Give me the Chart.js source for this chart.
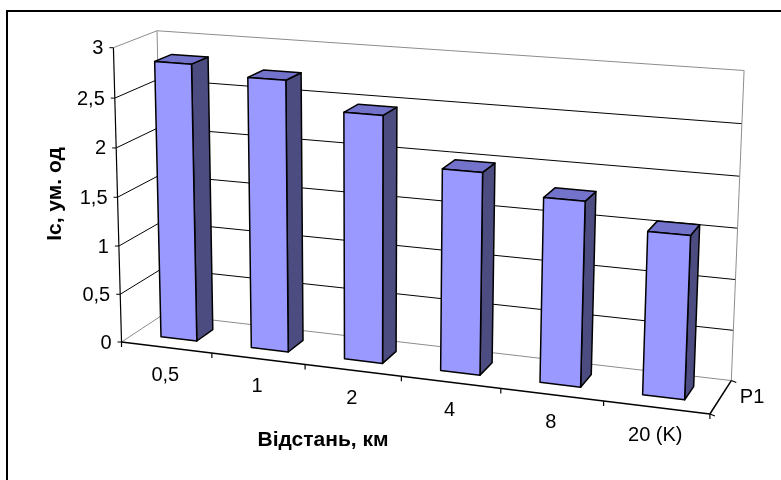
<!DOCTYPE html>
<html><head><meta charset="utf-8">
<script src="https://cdn.jsdelivr.net/npm/chart.js@4.4.1/dist/chart.umd.min.js"></script>
<style>html,body{margin:0;padding:0;background:#fff;}#wrap{width:781px;height:480px;}</style>
</head><body><div id="wrap"><canvas id="c" width="781" height="480"></canvas></div>
<script>
// ---- data ----
const categories = ['0,5', '1', '2', '4', '8', '20 (K)'];
const seriesName = 'P1';
const values = [2.83, 2.74, 2.47, 2.0, 1.81, 1.58];
const yMin = 0, yMax = 3, yStep = 0.5;
const yTitle = 'Іс, ум. од';
const xTitle = 'Відстань, км';

// ---- 3D frame calibration (slot X, normalised value Y, depth Z) -> screen ----
const frameCal = [
  [0,0,0,123,341],[0,1,0,112.5,47],[6,0,0,710,415],
  [0,0,1,162,316],[0,1,1,158,31],[6,0,1,732,378],[6,1,1,744,71],
  [1,0,0,212,352.5],[2,0,0,305,364],[3,0,0,402,376.5],[4,0,0,500,389],[5,0,0,603,402]
];
function solveProjection(pts){
  const rows=[], rhs=[];
  for (const [X,Y,Z,u0,v0] of pts){
    const u=(u0-400)/400, v=(v0-240)/400;
    rows.push([X,Y,Z,1,0,0,0,0,-u*X,-u*Y,-u*Z]); rhs.push(u);
    rows.push([0,0,0,0,X,Y,Z,1,-v*X,-v*Y,-v*Z]); rhs.push(v);
  }
  const n=11, A=[...Array(n)].map(()=>Array(n+1).fill(0));
  rows.forEach((r,k)=>{for(let i=0;i<n;i++){for(let j=0;j<n;j++)A[i][j]+=r[i]*r[j];A[i][n]+=r[i]*rhs[k];}});
  for(let c=0;c<n;c++){
    let p=c; for(let r=c+1;r<n;r++) if(Math.abs(A[r][c])>Math.abs(A[p][c])) p=r;
    const t=A[c];A[c]=A[p];A[p]=t;
    for(let r=0;r<n;r++){ if(r===c) continue; const f=A[r][c]/A[c][c]; for(let k=c;k<=n;k++) A[r][k]-=f*A[c][k]; }
  }
  return A.map((r,i)=>r[n]/r[i]);
}
const M = solveProjection(frameCal);
function P(X,Y,Z){
  const w=M[8]*X+M[9]*Y+M[10]*Z+1;
  return [(M[0]*X+M[1]*Y+M[2]*Z+M[3])/w*400+400, (M[4]*X+M[5]*Y+M[6]*Z+M[7])/w*400+240];
}
const fmt = v => String(v).replace('.', ',');

const threeD = {
  id:'threeD',
  afterDatasetsDraw(chart){
    const ctx=chart.ctx, xs=chart.scales.x, ys=chart.scales.y;
    const N=chart.data.labels.length, slot=xs.width/N;
    const norm = v => (v - ys.min)/(ys.max - ys.min);
    const line=(a,b,col,w)=>{ctx.beginPath();ctx.moveTo(a[0],a[1]);ctx.lineTo(b[0],b[1]);ctx.strokeStyle=col;ctx.lineWidth=w;ctx.stroke();};
    ctx.save();
    ctx.lineCap='butt';
    // frame
    ctx.strokeStyle='#000';ctx.lineWidth=2;ctx.strokeRect(7,11,800,500);
    // walls grid
    const gray='#8c8c8c';
    ys.ticks.forEach(t=>{
      const y=norm(t.value);
      const col=(t.value===ys.max||t.value===ys.min)?gray:'#000';
      line(P(0,y,0),P(0,y,1),col,1);
      line(P(0,y,1),P(N,y,1),col,1);
    });
    line(P(0,0,1),P(0,1,1),gray,1);
    line(P(N,0,1),P(N,1,1),gray,1);
    // axes
    line(P(0,0,0),P(0,1,0),'#000',1.2);
    line(P(0,0,0),P(N,0,0),'#000',1.5);
    line(P(N,0,0),P(N,0,1),'#000',1.5);
    // value ticks & labels
    ctx.fillStyle='#000';ctx.font='20px "Liberation Sans", Arial, sans-serif';
    ctx.textAlign='right';ctx.textBaseline='middle';
    ys.ticks.forEach(t=>{
      const p=P(0,norm(t.value),0);
      line([p[0]-4,p[1]],p,'#000',1);
      ctx.fillText(fmt(t.value),p[0]-10,p[1]+1);
    });
    // category ticks & labels
    for(let i=0;i<=N;i++){const p=P(i,0,0); line(p,[p[0],p[1]+5],'#000',1.2);}
    ctx.textAlign='center';
    chart.data.labels.forEach((lab,i)=>{
      const X=(xs.getPixelForValue(i)-xs.left)/slot;
      const p=P(X,0,0);
      ctx.fillText(lab,p[0]-1,p[1]+28);
    });
    // depth ticks & label
    [0,1].forEach(z=>{const p=P(N,0,z); line(p,[p[0]+5,p[1]+2],'#000',1.2);});
    ctx.textAlign='left';
    const pm=P(N,0,0.5);
    ctx.fillText(chart.data.datasets[0].label,pm[0]+19,pm[1]+1);
    // bars
    const meta=chart.getDatasetMeta(0);
    const z0=0.3,z1=0.7;
    ctx.lineJoin='round';ctx.lineWidth=1.5;ctx.strokeStyle='#000';
    const poly=(pts,fill)=>{ctx.beginPath();pts.forEach((q,k)=>k?ctx.lineTo(q[0],q[1]):ctx.moveTo(q[0],q[1]));ctx.closePath();ctx.fillStyle=fill;ctx.fill();ctx.stroke();};
    meta.data.forEach(el=>{
      const X0=(el.x-el.width/2-xs.left)/slot, X1=(el.x+el.width/2-xs.left)/slot;
      const Y0=norm(ys.getValueForPixel(el.base)), Y1=norm(ys.getValueForPixel(el.y));
      poly([P(X1,Y0,z0),P(X1,Y0,z1),P(X1,Y1,z1),P(X1,Y1,z0)],'#4c4c80');
      poly([P(X0,Y1,z0),P(X1,Y1,z0),P(X1,Y1,z1),P(X0,Y1,z1)],'#7373cc');
      poly([P(X0,Y0,z0),P(X1,Y0,z0),P(X1,Y1,z0),P(X0,Y1,z0)],'#9999ff');
    });
    // titles
    ctx.fillStyle='#000';ctx.font='bold 21px "Liberation Sans", Arial, sans-serif';
    ctx.textAlign='center';ctx.textBaseline='middle';
    ctx.fillText(chart.options.scales.x.title.text,323,440);
    ctx.translate(55,194);ctx.rotate(-Math.PI/2);
    ctx.fillText(chart.options.scales.y.title.text,0,0);
    ctx.restore();
  }
};

new Chart(document.getElementById('c'),{
  type:'bar',
  data:{labels:categories,datasets:[{label:seriesName,data:values,
    backgroundColor:'rgba(0,0,0,0)',borderWidth:0,barPercentage:0.4,categoryPercentage:1}]},
  options:{
    responsive:false,animation:false,devicePixelRatio:1,
    layout:{padding:{left:120,right:40,top:40,bottom:80}},
    plugins:{legend:{display:false},tooltip:{enabled:false}},
    scales:{
      x:{display:false,title:{display:false,text:xTitle}},
      y:{display:false,min:yMin,max:yMax,ticks:{stepSize:yStep},title:{display:false,text:yTitle}}
    }
  },
  plugins:[threeD]
});
</script></body></html>
